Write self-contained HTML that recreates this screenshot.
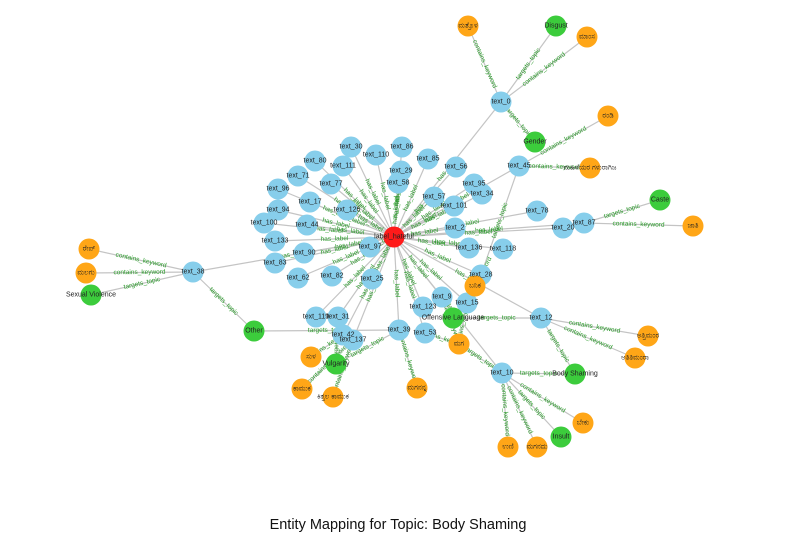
<!DOCTYPE html>
<html><head><meta charset="utf-8"><style>
body{margin:0;background:#fff;}
svg{display:block;font-family:"Liberation Sans","Noto Sans CJK SC",sans-serif;}
</style></head><body>
<svg id="g" width="796" height="542"></svg>
<script>
const nodeNames=["label_hateful","text_30","text_86","text_80","text_110","text_85","text_111","text_56","text_71","text_29","text_77","text_58","text_95","text_96","text_17","text_57","text_34","text_45","text_101","text_94","text_126","text_78","text_100","text_44","text_2","text_20","text_133","text_97","text_136","text_118","text_90","text_83","text_62","text_82","text_25","text_28","text_9","text_15","text_123","text_119","text_31","text_42","text_137","text_39","text_53","text_12","text_10","text_0","text_87","text_38",
"Disgust","Gender","Caste","Other","Sexual Violence","Offensive Language","Vulgarity","Body Shaming","Insult",
"ಮತ್ತೊಳ","ಮಾಂಸ","ರಂಡಿ","ಮಹಿಳೆಯರ ಗಳುರಾಗಿಜ","ಜಾತಿ","ರೇಪ್","ಮಲಗು","ಬನಿಕ","ಮಗ","ಸುಳ","ಕಾಮುಕ","ಕಿತ್ತಲ ಕಾಮುಕ","ಮಗನನ್ನ","ಅತ್ತಿಮಂರ","ಅತಿತಿಮಂರಾ","ಬೇಕು","ಉಣಿ","ಮಗನದು"];
const nodeKinds=["label","t","t","t","t","t","t","t","t","t","t","t","t","t","t","t","t","t","t","t","t","t","t","t","t","t","t","t","t","t","t","t","t","t","t","t","t","t","t","t","t","t","t","t","t","t","t","t","t","t",
"topic","topic","topic","topic","topic","topic","topic","topic","topic",
"kw","kw","kw","kw","kw","kw","kw","kw","kw","kw","kw","kw","kw","kw","kw","kw","kw","kw"];
const nodeX=[394,351,402,315,376,428,343,456,298,401,331,398,474,278,310,434,482,519,454,278,347,537,264,307,455,563,275,370,469,503,304,275,298,332,372,481,442,467,423,316,338,343,353,399,425,541,502,501,584,193,
556,535,660,254,91,453,336,575,561,
468,587,608,590,693,89,86,475,459,311,302,333,417,648,635,583,508,537];
const nodeY=[237,147,147,161,155,159,166,167,176,171,184,183,184,189,202,197,194,166,206,210,210,211,223,225,228,228,241,247,248,249,253,263,278,276,279,275,297,303,307,317,317,335,340,330,333,318,373,102,223,272,
26,142,200,331,295,318,364,374,437,
26,37,116,168,226,249,273,286,344,357,389,397,388,336,358,423,447,447];
const edgeFrom=["text_0","text_0","text_0","text_0","text_45","text_45","text_45","text_87","text_87","text_20","text_38","text_38","text_38","text_38","text_12","text_12","text_12","text_12","text_10","text_10","text_10","text_10","text_10","text_39","text_39","text_39","text_53","text_42","text_137","text_137","text_31","text_15","text_15","text_28","text_9","text_10"];
const edgeTo=["Disgust","ಮತ್ತೊಳ","ಮಾಂಸ","Gender","ರಂಡಿ","ಮಹಿಳೆಯರ ಗಳುರಾಗಿಜ","text_28","Caste","ಜಾತಿ","text_87","ರೇಪ್","ಮಲಗು","Sexual Violence","Other","Offensive Language","Body Shaming","ಅತ್ತಿಮಂರ","ಅತಿತಿಮಂರಾ","Body Shaming","Insult","ಬೇಕು","ಉಣಿ","ಮಗನದು","ಮಗನನ್ನ","Other","Vulgarity","ಮಗ","ಸುಳ","ಕಾಮುಕ","ಕಿತ್ತಲ ಕಾಮುಕ","Vulgarity","ಮಗ","Offensive Language","ಬನಿಕ","ಮಗ","ಮಗ"];
const edgeLabels=["targets_topic","contains_keyword","contains_keyword","targets_topic","contains_keyword","contains_keyword","targets_topic","targets_topic","contains_keyword","","contains_keyword","contains_keyword","targets_topic","targets_topic","targets_topic","targets_topic","contains_keyword","contains_keyword","targets_topic","targets_topic","contains_keyword","contains_keyword","contains_keyword","contains_keyword","targets_topic","targets_topic","contains_keyword","contains_keyword","contains_keyword","contains_keyword","targets_topic","contains_keyword","targets_topic","contains_keyword","contains_keyword","targets_topic"];
const svg=document.getElementById('g');
const NS='http://www.w3.org/2000/svg';
function idx(n){return nodeNames.indexOf(n);}
function px(i){return nodeX[i];}
function py(i){return nodeY[i];}
const edgeLayer=document.createElementNS(NS,'g');svg.appendChild(edgeLayer);
const labLayer=document.createElementNS(NS,'g');svg.appendChild(labLayer);
const nodeLayer=document.createElementNS(NS,'g');svg.appendChild(nodeLayer);
function addEdge(a,b,lab){
  const l=document.createElementNS(NS,'line');
  
  
  l.setAttribute('x1',px(a));l.setAttribute('y1',py(a));l.setAttribute('x2',px(b));l.setAttribute('y2',py(b));
  l.setAttribute('stroke','#c4c4c4');l.setAttribute('stroke-width','1.2');
  edgeLayer.appendChild(l);
  if(!lab)return;
  let ang=Math.atan2(py(b)-py(a),px(b)-px(a))*180/Math.PI;
  if(ang>90)ang-=180; if(ang<-90)ang+=180;
  const mx=(px(a)+px(b))/2,my=(py(a)+py(b))/2;
  const t=document.createElementNS(NS,'text');
  
  
  t.setAttribute('x',mx);t.setAttribute('y',my);
  t.setAttribute('font-size','6.5');t.setAttribute('fill','#2a9a2a');
  t.setAttribute('text-anchor','middle');t.setAttribute('dominant-baseline','central');
  t.setAttribute('transform','rotate('+ang+' '+mx+' '+my+')');
  t.textContent=lab;
  labLayer.appendChild(t);
}
for(let i=1;i<nodeNames.length;i++){
  if(nodeKinds[i]==='t') addEdge(i,0,'has_label');
}
for(let e=0;e<edgeFrom.length;e++) addEdge(idx(edgeFrom[e]),idx(edgeTo[e]),edgeLabels[e]);
const colors={label:'#ff1a1a',t:'#87ceeb',topic:'#3ccc3c',kw:'#ffa617'};
for(let i=0;i<nodeNames.length;i++){
  const c=document.createElementNS(NS,'circle');
  
  
  c.setAttribute('cx',px(i));c.setAttribute('cy',py(i));c.setAttribute('r',10.5);
  c.setAttribute('fill',colors[nodeKinds[i]]);
  nodeLayer.appendChild(c);
}
for(let i=0;i<nodeNames.length;i++){
  const t=document.createElementNS(NS,'text');
  
  
  t.setAttribute('x',px(i));t.setAttribute('y',py(i));
  t.setAttribute('font-size','7');t.setAttribute('fill','#222');
  t.setAttribute('text-anchor','middle');t.setAttribute('dominant-baseline','central');
  t.textContent=nodeNames[i];
  nodeLayer.appendChild(t);
}
const title=document.createElementNS(NS,'text');


title.setAttribute('x',398);title.setAttribute('y',529);
title.setAttribute('font-size','14.5');title.setAttribute('text-anchor','middle');title.setAttribute('fill','#111');
title.textContent='Entity Mapping for Topic: Body Shaming';
svg.appendChild(title);
</script>
</body></html>
